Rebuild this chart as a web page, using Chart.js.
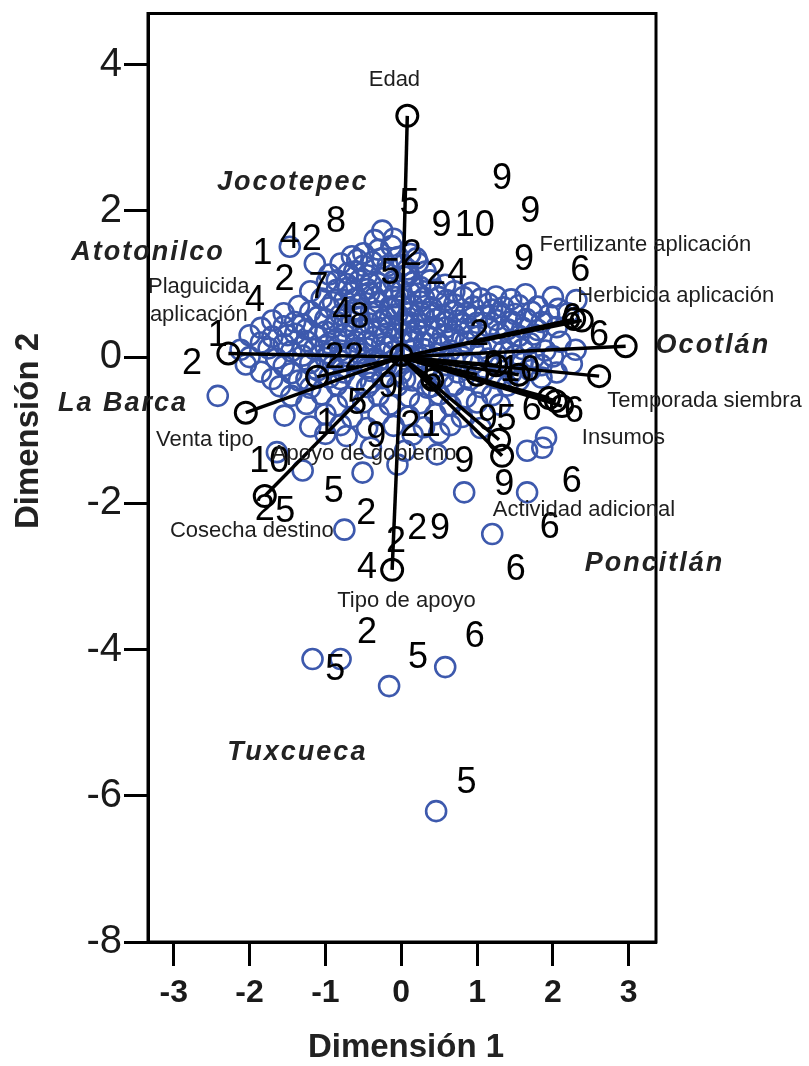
<!DOCTYPE html>
<html>
<head>
<meta charset="utf-8">
<script src="https://cdn.jsdelivr.net/npm/chart.js@4.4.1/dist/chart.umd.min.js"></script>
<style>
  html, body { margin: 0; padding: 0; background: #fff; }
  #c { display: block; }
</style>
</head>
<body>
<canvas id="c" width="809" height="1066"></canvas>
<script>
// Axis ticks
const xTicks = [-3, -2, -1, 0, 1, 2, 3];
const yTicks = [4, 2, 0, -2, -4, -6, -8];

// Object scores (Dimensión 1, Dimensión 2)
const objectScores = [
  [-0.25,1.73],[-0.35,1.60],[-0.10,1.62],
  [-1.47,1.51],[-0.30,1.47],[-0.13,1.52],
  [-0.65,1.38],[-0.50,1.42],[-0.04,1.37],[0.12,1.41],[-0.25,1.35],[0.20,1.35],[-0.58,1.33],
  [-1.14,1.28],[-0.80,1.28],[-0.38,1.30],[0.02,1.26],[0.22,1.29],[-0.50,1.25],[-0.18,1.25],[0.08,1.20],
  [-0.95,1.13],[-0.62,1.17],[-0.45,1.12],[-0.20,1.16],[0.10,1.14],[0.32,1.17],[-0.70,1.15],[0.05,1.10],
  [-0.98,1.03],[-0.72,1.00],[-0.55,1.05],[-0.30,1.01],[-0.10,1.04],[0.15,1.02],[0.38,1.05],[0.58,0.99],[-0.85,1.05],
  [-0.70,0.95],[-0.40,1.00],[-0.15,0.95],[0.25,0.96],
  [-1.20,0.90],[-0.85,0.92],[-0.65,0.88],[-0.45,0.93],[-0.25,0.89],[0.00,0.91],[0.22,0.87],[0.45,0.92],[0.70,0.90],[0.92,0.88],
  [-0.42,0.88],[-0.08,0.82],[0.12,0.88],
  [-1.05,0.80],[-0.75,0.78],[-0.35,0.82],[0.05,0.79],[0.30,0.81],[0.60,0.78],[0.82,0.82],[1.05,0.80],[1.25,0.83],[1.45,0.79],[1.64,0.86],[2.00,0.82],[2.31,0.78],
  [-0.90,0.75],[-0.60,0.80],[-0.30,0.75],[0.00,0.70],[0.25,0.76],[0.50,0.82],
  [-1.35,0.70],[-0.95,0.68],[-0.55,0.72],[-0.15,0.69],[0.15,0.71],[0.40,0.68],[0.70,0.72],[0.95,0.69],[1.15,0.73],[1.35,0.68],[1.55,0.71],[1.80,0.69],[2.07,0.66],
  [-0.62,0.65],[-0.32,0.62],[-0.12,0.66],[0.10,0.60],[0.38,0.62],[0.70,0.62],[1.20,0.65],
  [-1.55,0.60],[-1.20,0.62],[-0.80,0.58],[-0.40,0.61],[-0.05,0.59],[0.25,0.62],[0.55,0.58],[0.85,0.60],[1.10,0.57],[1.30,0.61],[1.50,0.59],[1.72,0.62],[1.95,0.58],[2.20,0.60],
  [-1.10,0.55],[-0.85,0.48],[-0.55,0.55],[-0.20,0.55],[0.05,0.45],[0.30,0.55],[0.60,0.48],[0.95,0.55],
  [-1.70,0.50],[-1.40,0.48],[-1.00,0.52],[-0.65,0.49],[-0.25,0.51],[0.10,0.48],[0.45,0.52],[0.75,0.50],[1.00,0.47],[1.25,0.51],[1.45,0.49],[1.65,0.52],[1.85,0.48],
  [-1.30,0.45],[-0.72,0.42],[-0.42,0.46],[-0.05,0.40],[0.25,0.45],
  [-1.85,0.40],[-1.55,0.42],[-1.25,0.38],[-0.90,0.41],[-0.50,0.39],[-0.15,0.42],[0.20,0.38],[0.60,0.41],[0.90,0.39],[1.15,0.42],[1.40,0.38],[1.60,0.40],[1.80,0.37],[2.05,0.41],
  [-1.00,0.35],[-0.60,0.36],[-0.30,0.40],[0.10,0.35],[0.45,0.40],[0.80,0.45],
  [-2.00,0.30],[-1.70,0.28],[-1.40,0.32],[-1.10,0.29],[-0.75,0.31],[-0.35,0.28],[0.00,0.32],[0.35,0.29],[0.70,0.31],[1.00,0.28],[1.30,0.32],[1.55,0.29],[1.75,0.31],
  [-1.50,0.30],[-0.20,0.32],[0.15,0.28],[0.55,0.30],
  [-0.85,0.25],[-0.45,0.22],[-0.10,0.25],[0.30,0.20],[0.65,0.25],
  [-1.85,0.20],[-1.55,0.18],[-1.25,0.22],[-0.95,0.19],[-0.60,0.21],[-0.25,0.18],[0.15,0.22],[0.50,0.19],[0.85,0.21],[1.20,0.18],[1.45,0.22],[1.70,0.19],[2.10,0.21],
  [-1.30,0.15],[-0.95,0.05],[-0.60,0.12],[-0.25,0.05],[0.15,0.10],[0.50,0.05],[-1.00,0.15],[-0.15,0.15],
  [-2.12,0.10],[-1.75,0.12],[-1.45,0.08],[-1.15,0.11],[-0.80,0.09],[-0.45,0.12],[-0.10,0.08],[0.30,0.11],[0.65,0.09],[1.05,0.12],[1.35,0.08],[1.60,0.11],[1.90,0.09],[2.30,0.10],
  [-2.00,0.00],[-1.65,-0.02],[-1.30,0.02],[-1.00,-0.01],[-0.70,0.01],[-0.35,-0.02],[0.05,0.02],[0.45,-0.01],[0.80,0.01],[1.15,-0.02],[1.50,0.02],[1.75,-0.01],[2.00,0.01],
  [-0.55,0.05],[0.25,0.00],[-0.30,-0.05],
  [-0.80,-0.05],[-0.45,-0.15],[-0.05,-0.10],[0.35,-0.15],[0.70,-0.05],
  [-2.05,-0.10],[-1.55,-0.12],[-1.20,-0.08],[-0.90,-0.11],[-0.55,-0.09],[-0.20,-0.12],[0.20,-0.08],[0.60,-0.11],[0.95,-0.09],[1.30,-0.12],[1.60,-0.08],[1.85,-0.11],[2.25,-0.09],
  [-1.85,-0.20],[-1.45,-0.22],[-1.10,-0.18],[-0.75,-0.21],[-0.40,-0.19],[0.00,-0.22],[0.40,-0.18],[0.75,-0.21],[1.10,-0.19],[1.45,-0.22],[1.70,-0.18],[2.05,-0.21],
  [-1.70,-0.30],[-1.35,-0.32],[-0.95,-0.28],[-0.60,-0.31],[-0.25,-0.29],[0.15,-0.32],[0.55,-0.28],[0.90,-0.31],[1.25,-0.29],[1.55,-0.32],[1.85,-0.28],
  [-1.25,-0.30],[-0.80,-0.30],[-0.40,-0.35],[0.05,-0.30],[0.40,-0.40],
  [-1.60,-0.40],[-1.20,-0.42],[-0.85,-0.38],[-0.45,-0.41],[-0.05,-0.39],[0.35,-0.42],[0.70,-0.38],[1.05,-0.41],[1.40,-0.39],
  [-1.45,-0.53],[-1.05,-0.51],[-0.70,-0.55],[-0.30,-0.52],[0.10,-0.54],[0.50,-0.51],[0.85,-0.55],[1.20,-0.52],
  [-1.25,-0.64],[-0.85,-0.66],[-0.50,-0.62],[-0.15,-0.65],[0.25,-0.63],[0.65,-0.66],[1.00,-0.62],[1.30,-0.65],
  [-1.54,-0.80],[-1.00,-0.78],[-0.65,-0.82],[-0.30,-0.79],[0.10,-0.81],[0.45,-0.78],[0.80,-0.82],
  [-1.20,-0.95],[-0.80,-0.93],[-0.45,-0.97],[-0.10,-0.94],[0.30,-0.96],[0.65,-0.93],[1.05,-0.97],
  [-1.00,-1.05],[-0.72,-1.08],[0.15,-1.06],[0.50,-1.04],
  [-0.40,-1.24],[0.05,-1.28],
  [-2.42,-0.53],[-1.64,-1.30],[-1.30,-1.55],[-0.51,-1.58],[-0.05,-1.47],[0.47,-1.33],
  [1.66,-1.28],[1.86,-1.24],[1.91,-1.10],[0.83,-1.85],[1.66,-1.85],[-0.75,-2.36],[1.20,-2.42],
  [-1.17,-4.13],[-0.80,-4.13],[-0.16,-4.50],[0.58,-4.24],[0.46,-6.21]
];

// Variable loadings (vector end points)
const loadingX = [0.08, 2.28, 2.38, 2.96, 2.61, 1.95, 2.04, 2.12, 1.29, 1.33, 1.00, 1.25, 1.55, 0.41, 0.00, -2.28, -1.11, -2.05, -1.80, -0.12];
const loadingY = [3.30, 0.52, 0.50, 0.15, -0.26, -0.56, -0.60, -0.67, -1.13, -1.35, -0.24, -0.11, -0.24, -0.31, 0.03, 0.05, -0.27, -0.76, -1.90, -2.91];

// Variable names
const varLabels = ['Edad', 'Fertilizante aplicación', 'Herbicida aplicación', ['Plaguicida', 'aplicación'],
  'Temporada siembra', 'Insumos', 'Actividad adicional', 'Tipo de apoyo', 'Cosecha destino',
  'Apoyo de gobierno', 'Venta tipo'];
const varLabelX = [-0.09, 3.22, 3.62, -2.67, 4.00, 2.93, 2.41, 0.07, -1.97, -0.49, -2.59];
const varLabelY = [3.79, 1.54, 0.83, 0.77, -0.60, -1.11, -2.09, -3.34, -2.38, -1.33, -1.13];

// Municipalities
const townLabels = ['Jocotepec', 'Atotonilco', 'La Barca', 'Ocotlán', 'Poncitlán', 'Tuxcueca'];
const townX = [-1.43, -3.34, -3.67, 4.11, 3.34, -1.37];
const townY = [2.39, 1.43, -0.63, 0.16, -2.83, -5.41];

// Category codes
const codeText = ['9','5','9','9','10','8','4','2','1','2','7','4','4','8','1','2','5','2','2','4','9','6',
  '2','6','6','9','10','6','6','9','5','9','9','6','6','6','2','9','2','4','2','5','2','5','10','1','5','9','9',
  '2','1','2','2','5','2','5','6','5','5'];
const codeX = [1.33,0.11,1.70,0.53,0.97,-0.86,-1.47,-1.18,-1.83,-1.54,-1.09,-1.93,-0.78,-0.55,-2.42,-2.76,-0.14,0.14,0.46,0.74,1.62,2.36,
  1.03,2.25,2.61,1.22,1.57,1.72,2.28,1.14,1.39,0.83,1.36,2.25,1.96,1.51,0.21,0.51,-0.07,-0.45,-0.46,-0.89,-1.80,-1.53,-1.74,-0.99,-0.58,-0.33,-0.17,
  0.12,0.39,-0.88,-0.62,0.41,-0.45,0.22,0.97,-0.87,0.86];
const codeY = [2.43,2.09,1.98,1.79,1.79,1.85,1.63,1.60,1.41,1.05,0.95,0.76,0.60,0.53,0.29,-0.10,1.14,1.40,1.14,1.14,1.33,1.18,
  0.30,0.52,0.29,-0.12,-0.19,-0.72,-0.75,-0.86,-0.86,-1.44,-1.75,-1.71,-2.34,-2.91,-2.35,-2.35,-2.53,-2.89,-2.15,-1.85,-2.09,-2.12,-1.44,-0.91,-0.64,-1.10,-0.41,
  -0.94,-0.94,-0.01,-0.01,-0.31,-3.78,-4.12,-3.83,-4.28,-5.83];

const FONT = '"Liberation Sans", Arial, Helvetica, sans-serif';
const BLUE = '#3d59ad';

const datasets = [{
  label: 'Puntuaciones',
  data: objectScores.map(p => ({ x: p[0], y: p[1] })),
  showLine: false,
  pointStyle: 'circle',
  pointRadius: 10,
  pointBorderWidth: 2.6,
  pointBorderColor: BLUE,
  pointBackgroundColor: 'rgba(0,0,0,0)',
  order: 2
}];

loadingX.forEach((lx, i) => {
  datasets.push({
    label: 'v' + i,
    data: [{ x: 0, y: 0 }, { x: lx, y: loadingY[i] }],
    showLine: true,
    borderColor: '#000',
    borderWidth: 3.5,
    pointRadius: [0, 10.5],
    pointBorderWidth: 3,
    pointBorderColor: '#000',
    pointBackgroundColor: 'rgba(0,0,0,0)',
    order: 1
  });
});

const textLayer = {
  id: 'textLayer',
  afterDatasetsDraw(chart) {
    const { ctx, chartArea: a, scales: { x, y } } = chart;
    ctx.save();
    ctx.strokeStyle = '#000';
    ctx.lineWidth = 3;
    ctx.strokeRect(a.left, a.top, a.right - a.left, a.bottom - a.top);

    ctx.textAlign = 'center';
    ctx.textBaseline = 'middle';

    // category codes
    ctx.fillStyle = '#000';
    ctx.font = '36px ' + FONT;
    codeText.forEach((t, i) => {
      ctx.fillText(t, x.getPixelForValue(codeX[i]), y.getPixelForValue(codeY[i]));
    });

    // variable names
    ctx.fillStyle = '#1e1e1e';
    ctx.font = '22px ' + FONT;
    varLabels.forEach((t, i) => {
      const px = x.getPixelForValue(varLabelX[i]);
      const py = y.getPixelForValue(varLabelY[i]);
      if (Array.isArray(t)) {
        const lh = 28;
        t.forEach((line, k) => ctx.fillText(line, px, py + (k - (t.length - 1) / 2) * lh));
      } else {
        ctx.fillText(t, px, py);
      }
    });

    // municipalities
    ctx.fillStyle = '#222';
    ctx.font = 'italic bold 27px ' + FONT;
    ctx.letterSpacing = '2px';
    townLabels.forEach((t, i) => {
      ctx.fillText(t, x.getPixelForValue(townX[i]), y.getPixelForValue(townY[i]));
    });
    ctx.letterSpacing = '0px';
    ctx.restore();
  },
  afterDraw(chart) {
    const { ctx, chartArea: a } = chart;
    ctx.save();
    ctx.fillStyle = '#222';
    ctx.font = 'bold 33px ' + FONT;
    ctx.textAlign = 'center';
    ctx.textBaseline = 'middle';
    ctx.fillText('Dimensión 1', (a.left + a.right) / 2 + 4, 1048);
    ctx.translate(29, 431);
    ctx.rotate(-Math.PI / 2);
    ctx.fillText('Dimensión 2', 0, 0);
    ctx.restore();
  }
};

new Chart(document.getElementById('c'), {
  type: 'scatter',
  data: { datasets },
  options: {
    responsive: false,
    animation: false,
    devicePixelRatio: 1,
    layout: { padding: { top: 8, right: 153, left: 0, bottom: 0 } },
    plugins: { legend: { display: false }, tooltip: { enabled: false } },
    scales: {
      x: {
        type: 'linear',
        min: -3.34,
        max: 3.36,
        afterFit(s) { s.height = 124; s.paddingLeft = 0; s.paddingRight = 0; },
        afterBuildTicks(s) { s.ticks = xTicks.map(v => ({ value: v })); },
        grid: { drawOnChartArea: false, drawTicks: true, tickLength: 24, tickWidth: 3, tickColor: '#000' },
        border: { display: true, width: 3, color: '#000' },
        ticks: { color: '#1a1a1a', padding: 8, maxRotation: 0, autoSkip: false,
                 font: { family: FONT, size: 32, weight: 'bold' } }
      },
      y: {
        type: 'linear',
        min: -8,
        max: 4.7,
        afterFit(s) { s.width = 148; s.paddingTop = 0; s.paddingBottom = 0; },
        afterBuildTicks(s) { s.ticks = yTicks.map(v => ({ value: v })); },
        grid: { drawOnChartArea: false, drawTicks: true, tickLength: 24, tickWidth: 3, tickColor: '#000' },
        border: { display: true, width: 3, color: '#000' },
        ticks: { color: '#1a1a1a', padding: 2, autoSkip: false,
                 font: { family: FONT, size: 40, weight: 'normal' } }
      }
    }
  },
  plugins: [textLayer]
});
</script>
</body>
</html>
